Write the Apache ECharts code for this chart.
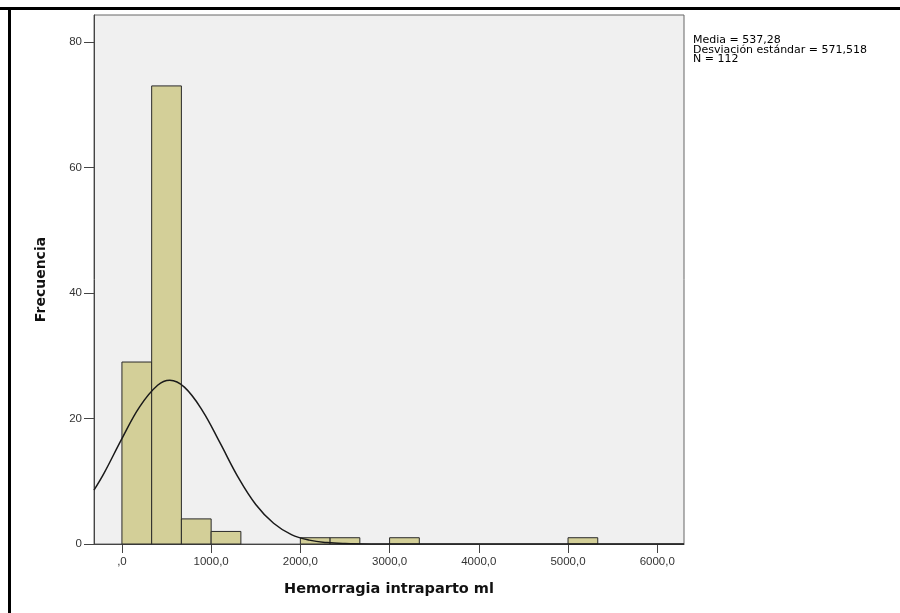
<!DOCTYPE html>
<html>
<head>
<meta charset="utf-8">
<script src="https://cdn.jsdelivr.net/npm/echarts@6/dist/echarts.min.js"></script>
<style>html,body{margin:0;padding:0;background:#fff}#c{width:900px;height:613px}</style>
</head>
<body>
<div id="c"></div>
<script>
// Histogram bins (ml) and frequencies
var binStart = [0, 333.33, 666.67, 1000, 2000, 2333.33, 3000, 5000];
var binEnd   = [333.33, 666.67, 1000, 1333.33, 2333.33, 2666.67, 3333.33, 5333.33];
var counts   = [29, 73, 4, 2, 1, 1, 1, 1];
// Normal curve points
var curveX = [-313, -200, 0, 200, 400, 537, 700, 900, 1100, 1300, 1500, 1700, 1900, 2100, 2300, 2500, 2800, 3200, 4000, 6300];
var curveY = [8.6, 11.3, 16.8, 21.9, 25.3, 26.1, 25.0, 21.3, 16.1, 10.7, 6.3, 3.3, 1.5, 0.62, 0.22, 0.07, 0.01, 0, 0, 0];
// Axis ticks
var xTicks = [0, 1000, 2000, 3000, 4000, 5000, 6000];
var xTickLabels = [',0', '1000,0', '2000,0', '3000,0', '4000,0', '5000,0', '6000,0'];
var yTicks = [0, 20, 40, 60, 80];
var statsLines = ['Media = 537,28', 'Desviación estándar = 571,518', 'N = 112'];

var chart = echarts.init(document.getElementById('c'), null, {renderer: 'canvas'});
var barData = binStart.map(function (s, i) { return [s, binEnd[i], counts[i]]; });
var curveData = curveX.map(function (x, i) { return [x, curveY[i]]; });

var option = {
  backgroundColor: '#ffffff',
  animation: false,
  grid: {left: 94, top: 15, width: 590, height: 529, show: true, backgroundColor: '#f0f0f0', borderColor: '#666', borderWidth: 1},
  xAxis: {
    type: 'value', min: -313, max: 6300,
    name: 'Hemorragia intraparto ml', nameLocation: 'middle', nameGap: 38,
    nameTextStyle: {fontFamily: 'DejaVu Sans', fontWeight: 'bold', fontSize: 14.5, color: '#111'},
    axisLine: {show: true, onZero: false, lineStyle: {color: '#444', width: 1}},
    axisTick: {show: true, length: 9, customValues: xTicks, lineStyle: {color: '#444'}},
    axisLabel: {customValues: xTicks, fontFamily: 'Liberation Sans', fontSize: 11.5, color: '#333', margin: 12,
      formatter: function (v) { var i = xTicks.indexOf(v); return i >= 0 ? xTickLabels[i] : ''; }},
    splitLine: {show: false}
  },
  yAxis: {
    type: 'value', min: 0, max: 84.3,
    name: 'Frecuencia', nameLocation: 'middle', nameGap: 46, nameRotate: 90,
    nameTextStyle: {fontFamily: 'DejaVu Sans', fontWeight: 'bold', fontSize: 14, color: '#111'},
    axisLine: {show: true, onZero: false, lineStyle: {color: '#444', width: 1}},
    axisTick: {show: true, length: 10, customValues: yTicks, lineStyle: {color: '#444'}},
    axisLabel: {customValues: yTicks, fontFamily: 'Liberation Sans', fontSize: 11.5, color: '#333', margin: 12},
    splitLine: {show: false}
  },
  series: [
    {
      type: 'custom',
      data: barData,
      encode: {x: [0, 1], y: 2},
      renderItem: function (params, api) {
        var p0 = api.coord([api.value(0), 0]);
        var p1 = api.coord([api.value(1), api.value(2)]);
        return {
          type: 'rect',
          shape: {x: p0[0], y: p1[1], width: p1[0] - p0[0], height: p0[1] - p1[1]},
          style: {fill: '#d3cf98', stroke: '#2a2a2a', lineWidth: 1}
        };
      },
      z: 2
    },
    {
      type: 'line',
      data: curveData,
      smooth: 0.4,
      showSymbol: false,
      lineStyle: {color: '#1a1a1a', width: 1.5},
      z: 3
    }
  ],
  graphic: [
    {type: 'rect', shape: {x: 0, y: 7, width: 900, height: 3}, style: {fill: '#000'}, silent: true},
    {type: 'rect', shape: {x: 8, y: 7, width: 3, height: 606}, style: {fill: '#000'}, silent: true},
    {type: 'text', left: 693, top: 35,
      style: {text: statsLines.join('\n'), font: '11px "DejaVu Sans"', lineHeight: 9.5, fill: '#000'}}
  ]
};
chart.setOption(option);
</script>
</body>
</html>
